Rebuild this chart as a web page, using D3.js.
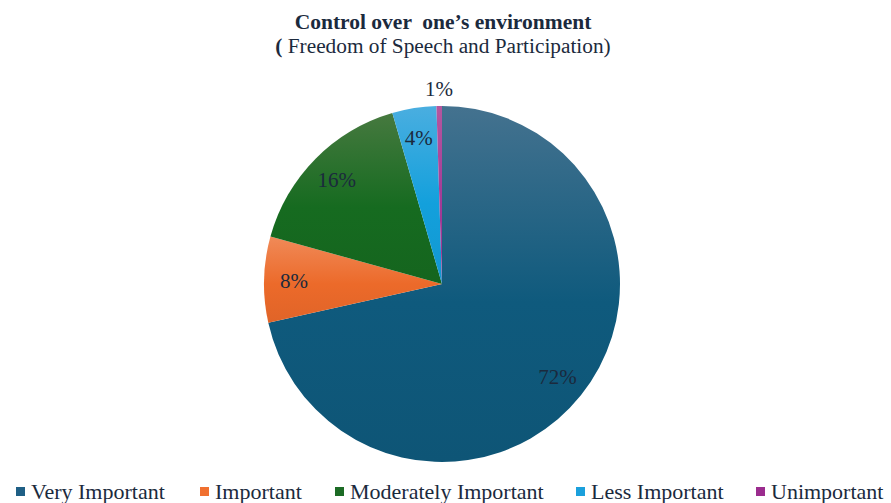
<!DOCTYPE html>
<html><head><meta charset="utf-8">
<script src="https://cdn.jsdelivr.net/npm/d3@7"></script>
<style>body{margin:0;background:#fff}svg{display:block}svg text{font-family:'Liberation Serif','Times New Roman',serif}</style>
</head><body>
<svg id="c" width="891" height="503"></svg>
<script>
const categories = ["Very Important","Important","Moderately Important","Less Important","Unimportant"];
const values = [71.5, 7.8, 16.2, 4.0, 0.5];
const labels = ["72%","8%","16%","4%","1%"];
const colors = ["#0f5a7d","#ec6a2a","#166b20","#13a0dc","#a33a96"];
const lightColors = ["#44728f","#f08a58","#46793f","#4aaee0","#b5579f"];
const legendColors = ["#1f5f85","#f07030","#1c6b25","#1ba0dc","#9b2c8e"];

const svg = d3.select("#c");
const cx = 442, cy = 284, R = 178;
const textColor = "#1b2a3d";

const defs = svg.append("defs");
categories.forEach((c,i)=>{
  const g = defs.append("linearGradient").attr("id","g"+i)
    .attr("x1",0).attr("y1",0).attr("x2",0).attr("y2",1);
  g.append("stop").attr("offset","0%").attr("stop-color",lightColors[i]);
  g.append("stop").attr("offset","55%").attr("stop-color",colors[i]);
  g.append("stop").attr("offset","100%").attr("stop-color",d3.color(colors[i]).darker(0.15));
});

svg.append("text").attr("x",443).attr("y",29).attr("text-anchor","middle")
  .attr("font-weight","bold").attr("font-size",21.5)
  .attr("fill","#1b2a3d").style("white-space","pre")
  .text("Control over  one\u2019s environment");
svg.append("text").attr("x",443).attr("y",53).attr("text-anchor","middle")
  .attr("font-size",21.3).attr("fill",textColor)
  .style("white-space","pre")
  .html("<tspan font-weight='bold'>(</tspan> Freedom of Speech and Participation)");

const pie = d3.pie().sort(null).value(d=>d)(values);
const arc = d3.arc().innerRadius(0).outerRadius(R);
const g = svg.append("g").attr("transform",`translate(${cx},${cy})`);
g.selectAll("path").data(pie).join("path")
  .attr("d",arc).attr("fill",(d,i)=>`url(#g${i})`);

const inner = d3.arc().innerRadius(148).outerRadius(148);
const outer = d3.arc().innerRadius(195).outerRadius(195);
g.selectAll("text.lbl").data(pie).join("text").attr("class","lbl")
  .attr("transform",d=>`translate(${(d.data<2?outer:inner).centroid(d)})`)
  .attr("text-anchor","middle").attr("dy","0.35em")
  .attr("font-size",21).attr("fill",textColor)
  .text((d,i)=>labels[i]);

const legX = [16,200,335,576,756];
const lg = svg.append("g");
categories.forEach((c,i)=>{
  lg.append("rect").attr("x",legX[i]).attr("y",487).attr("width",9).attr("height",9)
    .attr("fill",legendColors[i]);
  lg.append("text").attr("x",legX[i]+15).attr("y",499)
    .attr("font-size",22).attr("fill",textColor).text(c);
});
</script>
</body></html>
